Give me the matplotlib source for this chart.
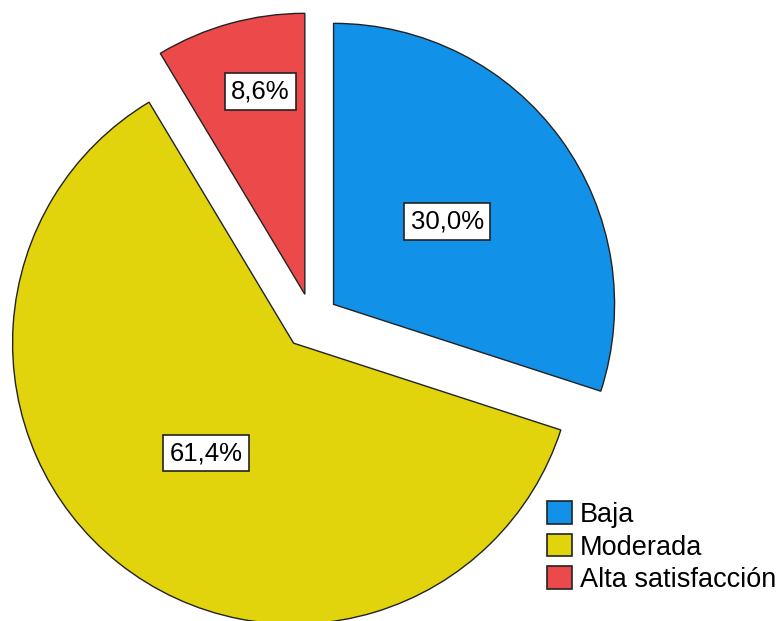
import numpy as np
import matplotlib.pyplot as plt
from matplotlib.patches import Patch

# data
categories = ['Baja', 'Moderada', 'Alta satisfacción']
percentages = [30.0, 61.4, 8.6]
colors = ['#1192e8', '#e1d30c', '#ec4a4a']

plt.rcParams['font.family'] = ['Liberation Sans', 'DejaVu Sans']

fig = plt.figure(figsize=(7.81, 6.21), dpi=100)
ax = fig.add_axes([0, 0, 1, 1])

wedges, texts, autotexts = ax.pie(
    percentages,
    colors=colors,
    startangle=90,
    counterclock=False,
    explode=[0.095, 0.105, 0.095],
    autopct=lambda p: f'{p:.1f}%'.replace('.', ','),
    pctdistance=0.5,
    wedgeprops=dict(edgecolor='#222222', linewidth=1),
    textprops=dict(fontsize=18.5),
)

# small slice: SPSS puts its label further out, nearer the right edge
w = wedges[2]
theta = np.deg2rad(0.6 * min(w.theta1, w.theta2) + 0.4 * max(w.theta1, w.theta2))
cx, cy = w.center
autotexts[2].set_position((cx + 0.74 * np.cos(theta), cy + 0.74 * np.sin(theta)))

for t in autotexts:
    t.set_bbox(dict(boxstyle='square,pad=0.25', facecolor='white',
                    edgecolor='#222222', linewidth=1.2))

ax.set_xlim(-1.110, 1.669)
ax.set_ylim(-1.071, 1.139)
ax.set_aspect('equal')
ax.axis('off')

handles = [Patch(facecolor=c, edgecolor='#222222', linewidth=1.2) for c in colors]
fig.legend(handles, categories, loc='lower left', bbox_to_anchor=(0.701, 0.045),
           frameon=False, fontsize=19.5, handlelength=0.9, handleheight=0.9,
           handletextpad=0.3, labelspacing=0.22, borderpad=0, borderaxespad=0)

fig.savefig('out.png', dpi=100)
